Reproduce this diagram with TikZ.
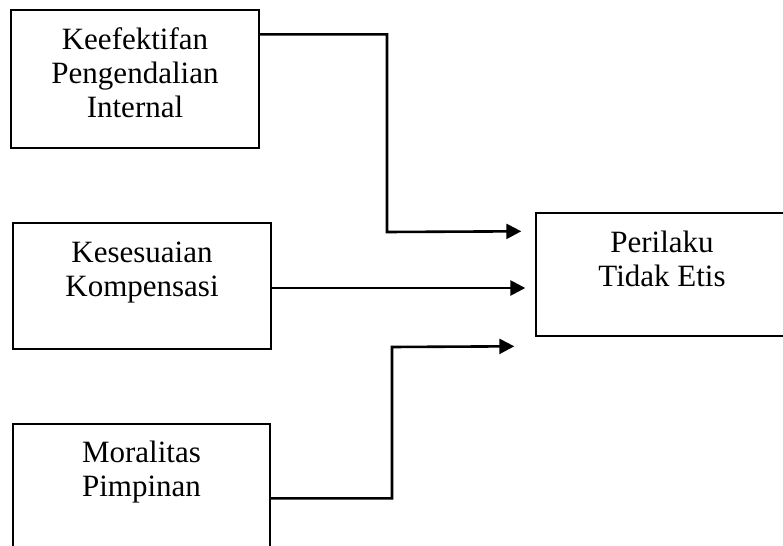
\documentclass[tikz,border=0pt]{standalone}
\usepackage{fontspec}
\setmainfont{Liberation Serif}
\usetikzlibrary{arrows.meta,calc}
\tikzset{
  box/.style={draw, line width=0.7pt, rectangle, inner sep=0pt},
  lbl/.style={anchor=base, inner sep=0pt, font=\fontsize{15.5}{17}\selectfont},
  arr/.style={line width=1.3pt, -{Triangle[length=7.5pt,width=7.5pt]}}
}
\begin{document}
\begin{tikzpicture}[x=0.5pt,y=-0.5pt]
\clip (0,0) rectangle (783,546);
\fill[white] (0,0) rectangle (783,546);
% boxes
\node[box, minimum width=124pt, minimum height=69pt] (b1) at (135,79) {};
\node[box, minimum width=129pt, minimum height=63pt] (b2) at (142,286) {};
\node[box, minimum width=128.5pt, minimum height=73pt] (b3) at (141.5,497) {};
\node[box, minimum width=132pt, minimum height=61.5pt] (b4) at (668,274.5) {};
% labels
\node[lbl] (t1) at ($(b1.north)+(0,40)$) {\begin{tabular}[t]{@{}c@{}}Keefektifan\\Pengendalian\\Internal\end{tabular}};
\node[lbl] (t2) at ($(b2.north)+(0,40)$) {\begin{tabular}[t]{@{}c@{}}Kesesuaian\\Kompensasi\end{tabular}};
\node[lbl] (t3) at ($(b3.north)+(0,39)$) {\begin{tabular}[t]{@{}c@{}}Moralitas\\Pimpinan\end{tabular}};
\node[lbl] (t4) at ($(b4.north)+(-6,40)$) {\begin{tabular}[t]{@{}c@{}}Perilaku\\Tidak Etis\end{tabular}};
% connectors
\coordinate (e1) at ($(b4.north west)+(-14,19)$);
\coordinate (e2) at ($(b4.west)+(-10,13.5)$);
\coordinate (e3) at ($(b4.north west)+(-21,134)$);
\draw[arr] (b1.north east) ++(0,25) -| (387,232) -- (e1);
\draw[arr] (b2.east) ++(0,2) -- (e2);
\draw[arr] (b3.north east) ++(0,75) -| (392,347) -- (e3);
\end{tikzpicture}
\end{document}
